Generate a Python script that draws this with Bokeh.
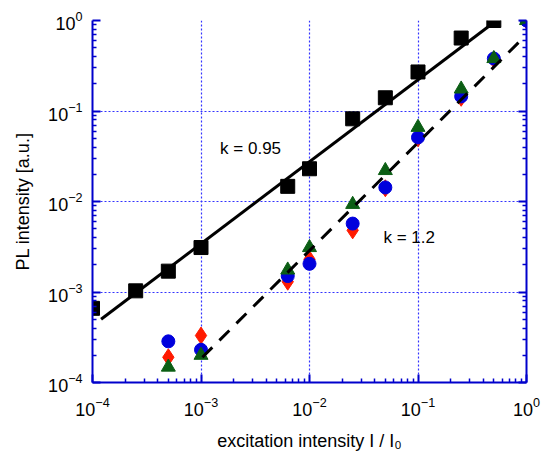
from bokeh.plotting import figure
from bokeh.models import LogAxis, LogTickFormatter, Label, FixedTicker, CustomJSTickFormatter
from bokeh.embed import file_html
from bokeh.resources import INLINE

# ---- data ----
sq_x = [1e-4, 2.5e-4, 5e-4, 1e-3, 6.3e-3, 1e-2, 2.5e-2, 5e-2, 0.1, 0.25, 0.5]
sq_y = [6.6e-4, 1.03e-3, 1.7e-3, 3.1e-3, 1.47e-2, 2.3e-2, 8.2e-2, 0.14, 0.27, 0.64, 1.0]

pt_x = [5e-4, 1e-3, 6.3e-3, 1e-2, 2.5e-2, 5e-2, 0.1, 0.25, 0.5, 1.0]
circle_y = [2.85e-4, 2.3e-4, 1.5e-3, 2.05e-3, 5.7e-3, 1.43e-2, 5.1e-2, 0.145, 0.38, 1.0]
diamond_y = [1.9e-4, 3.3e-4, 1.3e-3, 2.3e-3, 4.8e-3, 1.4e-2, 5.0e-2, 0.14, 0.37, 1.0]
triangle_y = [1.48e-4, 2.0e-4, 1.75e-3, 3.1e-3, 9.3e-3, 2.2e-2, 6.6e-2, 0.175, 0.38, 1.0]

fit1_x = [1.2e-4, 0.5]
fit1_y = [5.0e-4, 0.95]
fit2_x = [1.03e-3, 0.88]
fit2_y = [1.9e-4, 0.6]

decades = [1e-4, 1e-3, 1e-2, 1e-1, 1.0]
minors = [m * d for d in decades[:-1] for m in range(2, 10)]

AXC = "#0000cc"
GRIDC = "#3333ff"
FONT = "Liberation Sans"

p = figure(width=543, height=465, x_axis_type="log", y_axis_type="log",
           x_range=(1e-4, 1.0), y_range=(1e-4, 1.0),
           output_backend="svg", toolbar_location=None,
           min_border_left=92, min_border_right=17, min_border_top=20, min_border_bottom=83)
p.outline_line_color = None
p.background_fill_color = "white"
p.border_fill_color = "white"


def style_axis(ax):
    ax.ticker = FixedTicker(ticks=decades, minor_ticks=minors)
    ax.axis_line_color = AXC
    ax.axis_line_width = 2
    ax.major_tick_line_color = AXC
    ax.minor_tick_line_color = AXC
    ax.major_tick_line_width = 2
    ax.minor_tick_line_width = 1.5
    ax.major_tick_in = 8
    ax.major_tick_out = 0
    ax.minor_tick_in = 4
    ax.minor_tick_out = 0


for ax in (p.xaxis[0], p.yaxis[0]):
    style_axis(ax)
    ax.formatter = LogTickFormatter()
    ax.major_label_text_font = FONT
    ax.major_label_text_font_size = "18px"
    ax.major_label_text_color = "black"
    ax.axis_label_text_font = FONT
    ax.axis_label_text_font_size = "18px"
    ax.axis_label_text_font_style = "normal"
    ax.axis_label_text_color = "black"

p.xaxis.major_label_standoff = 14
p.yaxis.major_label_standoff = 10
p.xaxis.axis_label = "excitation intensity I / I\u2080"
p.yaxis.axis_label = "PL intensity [a.u.]"
p.xaxis.axis_label_standoff = 12
p.yaxis.axis_label_standoff = 12

right = LogAxis()
style_axis(right)
right.formatter = CustomJSTickFormatter(code="return '';")
right.major_label_standoff = 0
p.add_layout(right, "right")

for g in (p.xgrid[0], p.ygrid[0]):
    g.ticker = FixedTicker(ticks=decades)
    g.grid_line_color = GRIDC
    g.grid_line_dash = "2 2"
    g.grid_line_width = 1.2
    g.minor_grid_line_color = None

p.scatter(sq_x, sq_y, marker="square", size=14, color="black")
p.scatter(pt_x, diamond_y, marker="diamond", size=17, color="#ff1a00")
p.scatter(pt_x, circle_y, marker="circle", size=13, color="#0000dd")
p.scatter(pt_x, triangle_y, marker="triangle", size=14, color="#0b5e14")

p.line(fit1_x, fit1_y, line_color="black", line_width=3)
p.line(fit2_x, fit2_y, line_color="black", line_width=3, line_dash="14 10")

p.add_layout(Label(x=1.5e-3, y=0.0385, text="k = 0.95", text_font=FONT, text_font_size="17px",
                   text_color="black", text_baseline="middle"))
p.add_layout(Label(x=0.048, y=0.004, text="k = 1.2", text_font=FONT, text_font_size="17px",
                   text_color="black", text_baseline="middle"))

open("out.html", "w").write(file_html(p, INLINE))
